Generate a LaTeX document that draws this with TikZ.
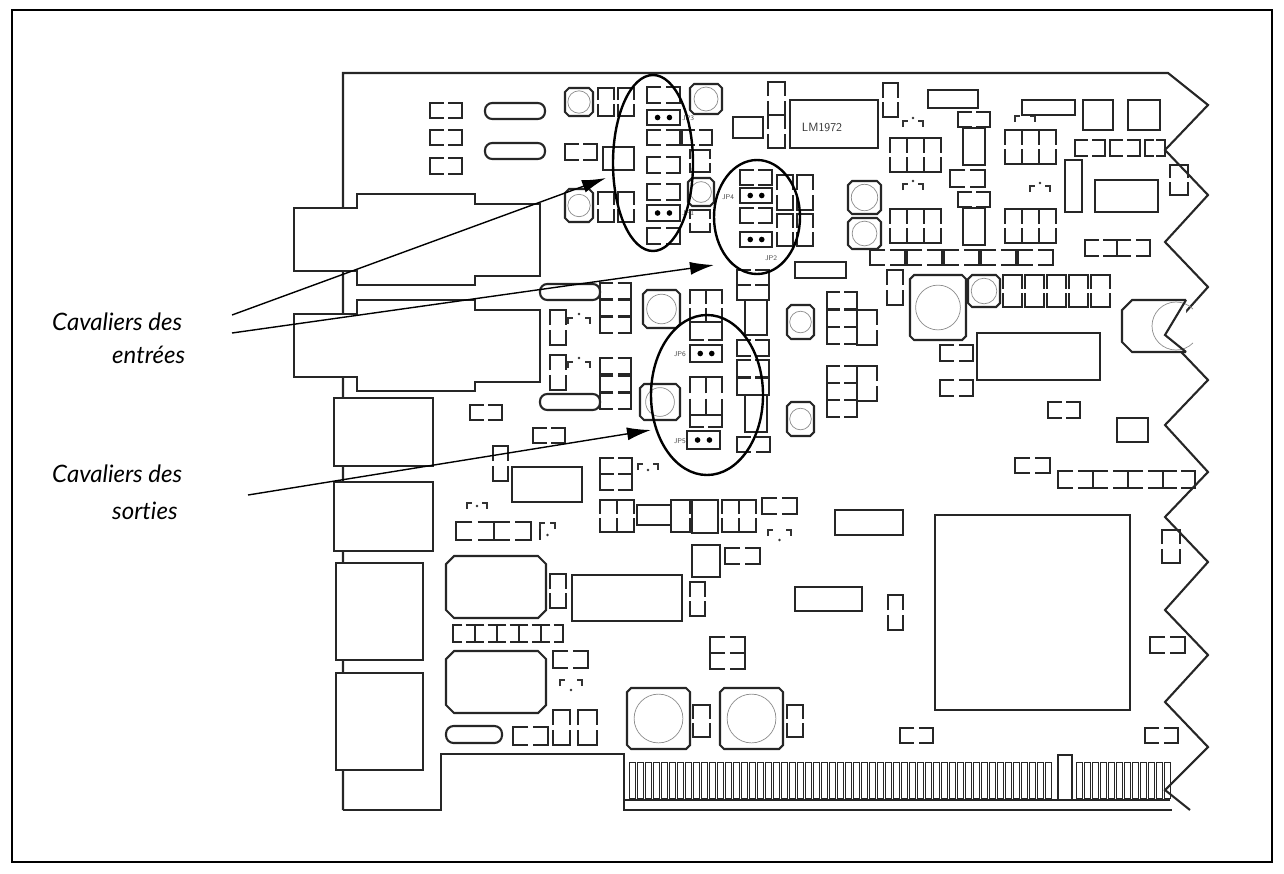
\documentclass[tikz,border=0pt]{standalone}
\usepackage{fontspec}
\setmainfont{Lato}[Ligatures={NoCommon,NoRare}]
\usetikzlibrary{arrows.meta}
\tikzset{
 comp/.style={line width=2.1pt,draw=black!85,fill=white},
 edge/.style={line width=2.1pt,draw=black!85},
 ring/.style={line width=0.7pt,draw=black!45},
 oval/.style={line width=2.4pt,draw=black},
 arr/.style={line width=1.4pt,-{Latex[length=24pt,width=13pt]}},
 lbl/.style={font=\fontsize{24}{28}\selectfont\itshape,inner sep=0pt},
 tiny/.style={font=\fontsize{7}{8}\selectfont\sffamily,inner sep=0pt,text=black!70}
}
\newcommand\hpad[4]{\draw[edge] (#1+0.43*#3,#2) -- (#1,#2) -- (#1,#2+#4) -- (#1+0.43*#3,#2+#4);
 \draw[edge] (#1+0.57*#3,#2) -- (#1+#3,#2) -- (#1+#3,#2+#4) -- (#1+0.57*#3,#2+#4);}
\newcommand\vpad[4]{\draw[edge] (#1,#2+0.43*#4) -- (#1,#2) -- (#1+#3,#2) -- (#1+#3,#2+0.43*#4);
 \draw[edge] (#1,#2+0.57*#4) -- (#1,#2+#4) -- (#1+#3,#2+#4) -- (#1+#3,#2+0.57*#4);}
\newcommand\rbox[4]{\draw[comp] (#1,#2) rectangle ++(#3,#4);}
\newcommand\capc[4]{\draw[comp] (#1+4,#2) -- (#1+#3-4,#2) -- (#1+#3,#2+4) -- (#1+#3,#2+#4-4) -- (#1+#3-4,#2+#4) -- (#1+4,#2+#4) -- (#1,#2+#4-4) -- (#1,#2+4) -- cycle;
 \draw[ring] (#1+0.5*#3,#2+0.5*#4) circle ({0.4*min(#3,#4)});}
\newcommand\jmp[4]{\draw[comp] (#1,#2) rectangle ++(#3,#4);
 \fill (#1+0.32*#3,#2+0.5*#4) circle (2.8pt); \fill (#1+0.68*#3,#2+0.5*#4) circle (2.8pt);}
\newcommand\pill[4]{\draw[comp,rounded corners=#4*0.45] (#1,#2) rectangle ++(#3,#4);}
\newcommand\octc[4]{\draw[comp] (#1+8,#2) -- (#1+#3-8,#2) -- (#1+#3,#2+8) -- (#1+#3,#2+#4-8) -- (#1+#3-8,#2+#4) -- (#1+8,#2+#4) -- (#1,#2+#4-8) -- (#1,#2+8) -- cycle;}
\newcommand\dbr[4]{\draw[line width=1.6pt,black!80] (#1,#2+6) -- (#1,#2) -- (#1+5,#2) (#1+#3-5,#2) -- (#1+#3,#2) -- (#1+#3,#2+6);
 \fill[black!80] (#1+0.5*#3,#2+#4) circle (1.4pt);}
\begin{document}
\begin{tikzpicture}[x=1pt,y=-1pt]
\useasboundingbox (0,0) rectangle (1284,873);
\draw[line width=2pt] (12,10) rectangle (1272,862);
% board outline
\draw[edge] (343,810) -- (343,73) -- (1168,73) -- (1208,105) -- (1165,150) -- (1208,195) -- (1165,242) -- (1208,287) -- (1165,335) -- (1208,380) -- (1165,425) -- (1208,472) -- (1165,517) -- (1208,562) -- (1165,610) -- (1208,655) -- (1165,702) -- (1208,747) -- (1165,790) -- (1190,810);
\draw[edge] (343,810) -- (441,810) -- (441,754) -- (624,754) -- (624,810) -- (1172,810);
% connector fingers
\foreach \i in {0,...,52} {\draw[line width=0.9pt,black!85] (629+8*\i,762) rectangle ++(6,36);}
\draw[comp] (1058,800) -- (1058,755) -- (1072,755) -- (1072,800);
\foreach \i in {0,...,11} {\draw[line width=0.9pt,black!85] (1076+8*\i,762) rectangle ++(6,36);}
\draw[edge] (624,800) -- (1170,800);
% left jacks
\foreach \dy in {0,106} {
 \draw[comp] (294,208+\dy) -- (357,208+\dy) -- (357,194+\dy) -- (475,194+\dy) -- (475,204+\dy) -- (540,204+\dy) -- (540,276+\dy) -- (475,276+\dy) -- (475,285+\dy) -- (357,285+\dy) -- (357,271+\dy) -- (294,271+\dy) -- cycle;}
\rbox{334}{398}{99}{68}
\rbox{334}{482}{99}{69}
\rbox{336}{563}{87}{97}
\rbox{336}{673}{87}{97}
% top-left
\hpad{430}{103}{32}{15} \hpad{430}{130}{32}{15} \hpad{430}{158}{32}{16}
\pill{485}{103}{60}{16} \pill{485}{143}{60}{16}
\hpad{565}{144}{32}{16} \rbox{603}{147}{31}{23}
\capc{565}{88}{28}{28} \vpad{598}{88}{16}{28} \vpad{618}{88}{16}{28}
\capc{565}{189}{28}{33} \vpad{598}{192}{16}{30} \vpad{618}{192}{16}{30}
\capc{690}{84}{32}{30}
\hpad{647}{87}{33}{16} \jmp{647}{110}{33}{15}
\hpad{647}{130}{33}{15} \hpad{682}{130}{30}{15}
\hpad{647}{157}{33}{16} \hpad{647}{184}{33}{16}
\jmp{647}{205}{33}{16} \hpad{647}{228}{33}{16}
\vpad{690}{150}{20}{22} \vpad{690}{210}{20}{22}
\node[tiny,anchor=west] (jp3) at (682,118) {JP3};
\node[tiny,anchor=west] (jp1) at (682,213) {JP1};
\capc{688}{178}{26}{28}
\rbox{733}{117}{30}{21}
\vpad{768}{82}{17}{33} \vpad{768}{115}{17}{33}
\draw[comp] (790,100) rectangle (878,148);
\node[font=\fontsize{12}{14}\selectfont\sffamily,text=black!80] (lm) at (822,127) {LM1972};
\vpad{883}{83}{15}{34}
% ellipse 2 area
\hpad{740}{170}{32}{15} \jmp{740}{188}{32}{15} \hpad{740}{208}{32}{15} \jmp{740}{232}{32}{15}
\node[tiny,anchor=west] (jp4) at (722,197) {JP4};
\node[tiny,anchor=west] (jp2) at (765,258) {JP2};
\vpad{777}{175}{16}{35} \vpad{797}{175}{16}{35} \vpad{777}{214}{16}{32} \vpad{797}{214}{16}{32}
\rbox{795}{262}{51}{16}
\capc{848}{181}{33}{33} \capc{848}{218}{33}{31}
\vpad{890}{138}{17}{34} \vpad{907}{138}{17}{34} \vpad{924}{138}{17}{34}
\vpad{890}{209}{17}{34} \vpad{907}{209}{17}{34} \vpad{924}{209}{17}{34}
\vpad{1005}{130}{17}{34} \vpad{1022}{130}{17}{34} \vpad{1039}{130}{17}{34}
\vpad{1005}{209}{17}{34} \vpad{1022}{209}{17}{34} \vpad{1039}{209}{17}{34}
\dbr{903}{121}{20}{-3} \dbr{903}{184}{20}{-3} \dbr{1030}{186}{20}{-3} \dbr{1015}{116}{20}{-3}
\rbox{928}{90}{50}{18} \rbox{1022}{100}{53}{15}
\rbox{1083}{100}{30}{30} \rbox{1128}{100}{32}{30}
\hpad{1075}{140}{30}{16} \hpad{1110}{140}{30}{16} \hpad{1145}{140}{20}{16}
\rbox{1095}{180}{63}{32} \rbox{1065}{160}{17}{52}
\hpad{958}{112}{32}{15} \rbox{963}{128}{22}{37} \hpad{950}{170}{35}{17}
\hpad{958}{192}{32}{15} \rbox{963}{208}{22}{37}
\foreach \x in {870,907,944,981,1018} {\hpad{\x}{250}{35}{15}}
\hpad{1085}{240}{32}{16} \hpad{1117}{240}{33}{16}
\vpad{1170}{165}{18}{30}
% middle
\pill{540}{284}{60}{16} \pill{540}{394}{60}{16}
\vpad{550}{310}{16}{35} \vpad{550}{355}{16}{35}
\dbr{568}{318}{22}{-4} \dbr{568}{362}{22}{-4}
\hpad{600}{283}{31}{16} \hpad{600}{300}{31}{16} \hpad{600}{317}{31}{16}
\hpad{600}{358}{31}{16} \hpad{600}{376}{31}{16} \hpad{600}{393}{31}{16}
\capc{643}{290}{37}{38} \capc{640}{384}{40}{36}
\vpad{690}{290}{16}{32} \vpad{706}{290}{16}{32} \hpad{690}{322}{32}{18}
\jmp{690}{345}{32}{17} \vpad{690}{377}{16}{38} \vpad{706}{377}{16}{38}
\hpad{690}{415}{32}{12} \jmp{687}{431}{33}{18}
\node[tiny,anchor=east] (jp6) at (686,354) {JP6};
\node[tiny,anchor=east] (jp5) at (686,441) {JP5};
\hpad{737}{270}{32}{15} \hpad{737}{285}{32}{15} \rbox{745}{300}{22}{35}
\hpad{737}{340}{32}{16} \hpad{737}{360}{32}{17} \hpad{737}{378}{32}{17} \rbox{745}{395}{22}{37}
\hpad{737}{437}{33}{15}
\capc{787}{305}{27}{34} \capc{787}{402}{27}{34}
\hpad{827}{292}{30}{17} \hpad{827}{310}{30}{17} \hpad{827}{327}{30}{17} \vpad{857}{310}{20}{35}
\hpad{827}{366}{30}{17} \hpad{827}{383}{30}{17} \hpad{827}{400}{30}{17} \vpad{857}{366}{20}{35}
\capc{910}{275}{56}{65}
\capc{968}{275}{32}{32}
\foreach \x in {1003,1025,1047,1069,1091} {\vpad{\x}{275}{19}{32}}
\vpad{887}{270}{16}{35}
\draw[comp] (977,333) rectangle (1100,380);
\hpad{940}{345}{33}{16} \hpad{940}{380}{33}{16}
\draw[comp] (1186,300) -- (1132,300) -- (1122,310) -- (1122,342) -- (1132,352) -- (1186,352);
\draw[ring] (1152,326) arc[start angle=180,end angle=45,radius=24];
\draw[ring] (1152,326) arc[start angle=180,end angle=315,radius=24];
\draw[edge] (1186,300) -- (1165,335) -- (1186,352);
\hpad{1048}{402}{32}{16} \rbox{1117}{418}{31}{24}
\hpad{1015}{458}{35}{15}
\hpad{1058}{471}{35}{17} \hpad{1093}{471}{35}{17} \hpad{1128}{471}{35}{17} \hpad{1163}{471}{32}{17}
% lower left
\hpad{470}{405}{32}{15} \hpad{533}{428}{32}{15} \vpad{493}{446}{15}{35}
\rbox{512}{467}{70}{35}
\hpad{600}{458}{32}{16} \hpad{600}{474}{32}{16} \dbr{638}{464}{20}{6}
\dbr{467}{503}{20}{3}
\hpad{456}{522}{38}{18} \hpad{494}{522}{37}{18} \draw[edge] (540,523) -- (540,540); \dbr{540}{523}{15}{12}
\vpad{600}{500}{17}{32} \vpad{617}{500}{17}{32}
\rbox{637}{505}{34}{20}
\vpad{671}{500}{19}{32} \rbox{692}{500}{26}{33}
\vpad{722}{500}{17}{32} \vpad{739}{500}{17}{32}
\hpad{762}{498}{35}{16} \dbr{768}{530}{23}{10}
\rbox{835}{510}{68}{25}
\rbox{935}{515}{195}{195}
\octc{446}{556}{100}{62} \vpad{550}{574}{16}{34}
\rbox{572}{575}{110}{46} \vpad{690}{582}{15}{34}
\rbox{692}{545}{28}{32} \hpad{725}{548}{35}{16}
\rbox{795}{587}{67}{24} \vpad{888}{595}{15}{35}
\foreach \x in {453,475,497,519,541} {\hpad{\x}{625}{22}{17}}
\octc{446}{651}{100}{62} \hpad{553}{651}{35}{17} \dbr{560}{680}{22}{10}
\pill{446}{726}{56}{17} \hpad{513}{727}{35}{18}
\vpad{553}{710}{17}{35} \vpad{578}{710}{19}{35}
\capc{627}{688}{63}{61} \vpad{693}{705}{17}{32}
\capc{720}{688}{63}{61} \vpad{787}{705}{16}{32}
\hpad{710}{637}{35}{16} \hpad{710}{653}{35}{16}
\hpad{900}{728}{33}{15} \hpad{1145}{728}{33}{15}
\hpad{1150}{637}{35}{16} \vpad{1162}{530}{18}{33}
% ellipses
\draw[oval] (653,163) ellipse[x radius=40,y radius=88];
\draw[oval] (757,217) ellipse[x radius=43,y radius=57];
\draw[oval] (707,395) ellipse[x radius=56,y radius=80];
% labels and arrows
\node[lbl,anchor=base west] (l1) at (52,330) {Cavaliers des};
\node[lbl,anchor=base west] (l2) at (112,363) {entrées};
\node[lbl,anchor=base west] (l3) at (52,482) {Cavaliers des};
\node[lbl,anchor=base west] (l4) at (112,519) {sorties};
\coordinate (s1) at (232,315); \coordinate (t1) at (606,178);
\coordinate (s2) at (232,333); \coordinate (t2) at (714,265);
\coordinate (s3) at (248,495); \coordinate (t3) at (651,430);
\draw[arr] (s1) -- (t1);
\draw[arr] (s2) -- (t2);
\draw[arr] (s3) -- (t3);
\end{tikzpicture}
\end{document}
